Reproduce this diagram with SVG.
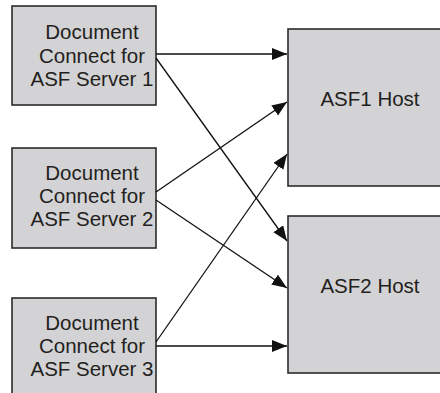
<svg xmlns="http://www.w3.org/2000/svg" width="440" height="393" viewBox="0 0 440 393">
<style>
.box{fill:#d3d3d5;stroke:#2b2b2b;stroke-width:1.6}
.t{font-family:"Liberation Sans",Arial,sans-serif;font-size:20.5px;fill:#231f20;text-anchor:middle}
.c{stroke:#111;stroke-width:1.3;fill:none;marker-end:url(#ah)}
</style>
<defs>
<marker id="ah" markerUnits="userSpaceOnUse" markerWidth="16" markerHeight="14" refX="15" refY="6" orient="auto">
<path d="M0,0 L15,6 L0,12 Z" fill="#111"/>
</marker>
</defs>
<rect width="440" height="393" fill="#fff"/>
<g id="dc1">
<rect class="box" x="12" y="6" width="144" height="99"/>
<text class="t" x="92" y="39">Document</text>
<text class="t" x="92" y="63">Connect for</text>
<text class="t" x="92" y="86">ASF Server 1</text>
</g>
<g id="dc2">
<rect class="box" x="12" y="148" width="144" height="100"/>
<text class="t" x="92" y="180">Document</text>
<text class="t" x="92" y="203">Connect for</text>
<text class="t" x="92" y="226">ASF Server 2</text>
</g>
<g id="dc3">
<rect class="box" x="12" y="298" width="144" height="110"/>
<text class="t" x="92" y="330">Document</text>
<text class="t" x="92" y="353">Connect for</text>
<text class="t" x="92" y="376">ASF Server 3</text>
</g>
<g id="host1">
<rect class="box" x="288" y="29" width="170" height="157"/>
<text class="t" x="370" y="106">ASF1 Host</text>
</g>
<g id="host2">
<rect class="box" x="288" y="216" width="170" height="157"/>
<text class="t" x="370" y="293">ASF2 Host</text>
</g>
<g id="connectors">
<line class="c" x1="156" y1="54" x2="287" y2="54"/>
<line class="c" x1="156" y1="58" x2="287" y2="241"/>
<line class="c" x1="156" y1="192" x2="287" y2="102"/>
<line class="c" x1="156" y1="200" x2="287" y2="288"/>
<line class="c" x1="156" y1="342" x2="287" y2="154"/>
<line class="c" x1="156" y1="346" x2="287" y2="346"/>
</g>
</svg>
